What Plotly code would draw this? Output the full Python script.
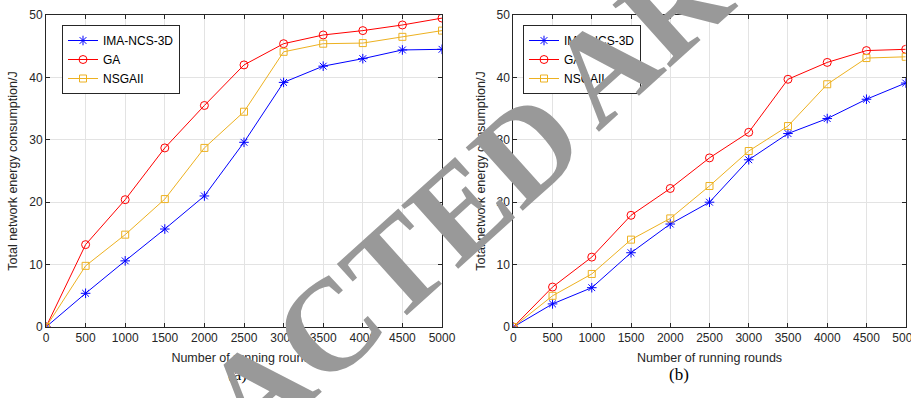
import plotly.graph_objects as go

rounds = [0, 500, 1000, 1500, 2000, 2500, 3000, 3500, 4000, 4500, 5000]

a_ima = [0, 5.4, 10.6, 15.7, 21.0, 29.6, 39.2, 41.8, 43.0, 44.4, 44.5]
a_ga = [0, 13.2, 20.4, 28.7, 35.5, 42.0, 45.4, 46.8, 47.5, 48.4, 49.5]
a_nsga = [0, 9.8, 14.8, 20.5, 28.7, 34.5, 44.1, 45.4, 45.5, 46.5, 47.5]

b_ima = [0, 3.7, 6.3, 11.9, 16.5, 20.0, 26.8, 31.0, 33.4, 36.5, 39.1]
b_ga = [0, 6.4, 11.2, 17.9, 22.2, 27.1, 31.2, 39.7, 42.4, 44.3, 44.5]
b_nsga = [0, 5.0, 8.5, 14.0, 17.4, 22.6, 28.2, 32.2, 38.9, 43.1, 43.3]

names = ["IMA-NCS-3D", "GA", "NSGAII"]
colors = ["#0000FF", "#FF0000", "#EDB120"]
symbols = ["asterisk-open", "circle-open", "square-open"]
sizes = [8, 8, 7]

# watermark words and their (pixel) centres
wm_words = ["RETRACTED", "ARTICLE"]
wm_px = [(258, 390), (787, -97)]

W, H = 911, 398
fig = go.Figure()

panels = [
    ("x", "y", "legend", [a_ima, a_ga, a_nsga]),
    ("x2", "y2", "legend2", [b_ima, b_ga, b_nsga]),
]
for xa, ya, lg, series in panels:
    for name, col, sym, sz, vals in zip(names, colors, symbols, sizes, series):
        fig.add_trace(go.Scatter(
            x=rounds, y=vals, name=name, mode="lines+markers",
            xaxis=xa, yaxis=ya, legend=lg,
            line=dict(color=col, width=1),
            marker=dict(symbol=sym, size=sz, color=col, line=dict(color=col, width=1)),
        ))

font_main = "Liberation Sans, Arial, sans-serif"
axis_common = dict(
    showline=True, linecolor="#262626", linewidth=1, mirror="ticks",
    ticks="inside", ticklen=4, tickcolor="#262626", automargin=False,
    showgrid=True, gridcolor="#e3e3e3", gridwidth=1, zeroline=False,
    tickfont=dict(family=font_main, size=12, color="#262626"),
)

xl = [46 / W, 442 / W]
xr = [513.3 / W, 905.7 / W]
yd = [(H - 327) / H, (H - 15) / H]

xtitle = dict(text="Number of running rounds", font=dict(size=12.5), standoff=8)
ytitle = dict(text="Total network energy consumption/J", font=dict(size=12.5), standoff=8)

serif = "Liberation Serif, Times New Roman, serif"
annotations = [
    dict(text="(a)", x=226 / W, y=(H - 386) / H, xref="paper", yref="paper",
         showarrow=False, font=dict(family=serif, size=17, color="#000000")),
    dict(text="(b)", x=691 / W, y=(H - 386) / H, xref="paper", yref="paper",
         showarrow=False, font=dict(family=serif, size=17, color="#000000")),
]
for word, (px, py) in zip(wm_words, wm_px):
    annotations.append(dict(
        text=f"<b>{word}</b>", x=px / W, y=(H - py) / H, xref="paper", yref="paper",
        xanchor="center", yanchor="middle", textangle=-42, showarrow=False,
        font=dict(family=serif, size=130, color="#999999")))

fig.update_layout(
    width=W, height=H,
    margin=dict(l=0, r=0, t=0, b=0, autoexpand=False),
    paper_bgcolor="white", plot_bgcolor="white",
    font=dict(family=font_main, size=12, color="#262626"),
    xaxis=dict(domain=xl, range=[0, 5000], dtick=500, anchor="y", title=xtitle, **axis_common),
    yaxis=dict(domain=yd, range=[0, 50], dtick=10, anchor="x", title=ytitle, **axis_common),
    xaxis2=dict(domain=xr, range=[0, 5000], dtick=500, anchor="y2", title=xtitle,
                ticklabeloverflow="allow", **axis_common),
    yaxis2=dict(domain=yd, range=[0, 50], dtick=10, anchor="x2", title=ytitle, **axis_common),
    legend=dict(x=62 / W, y=(H - 25) / H, xanchor="left", yanchor="top",
                bgcolor="white", bordercolor="#262626", borderwidth=1,
                font=dict(size=12, color="#000000"), tracegroupgap=0),
    legend2=dict(x=523 / W, y=(H - 25) / H, xanchor="left", yanchor="top",
                 bgcolor="white", bordercolor="#262626", borderwidth=1,
                 font=dict(size=12, color="#000000"), tracegroupgap=0),
    annotations=annotations,
)

fig.write_html("out.html")
